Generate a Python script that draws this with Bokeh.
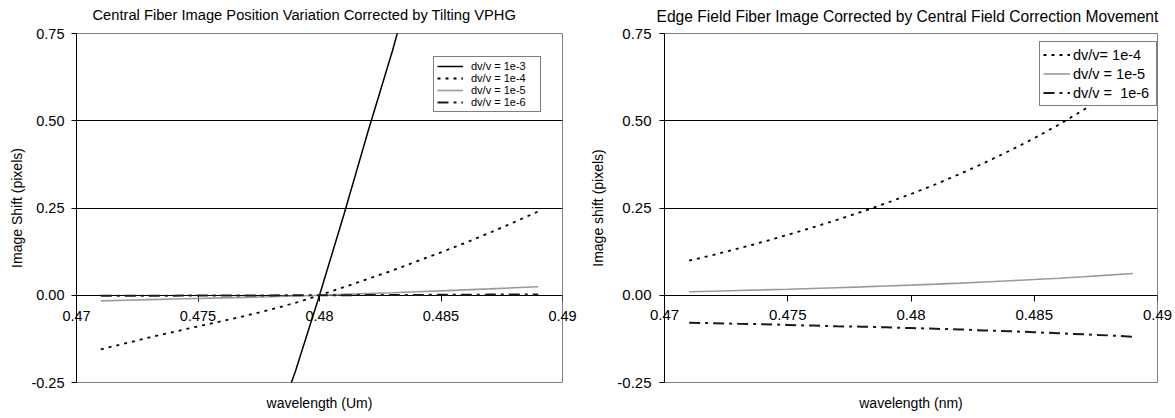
from bokeh.plotting import figure
from bokeh.layouts import row
from bokeh.models import (Range1d, FixedTicker, NumeralTickFormatter, LinearAxis,
                          Legend, LegendItem, Title, Grid)
from bokeh.embed import file_html
from bokeh.resources import INLINE

FONT = "Liberation Sans"

# ---------------- data ----------------
wavelength = [0.471, 0.472, 0.473, 0.474, 0.475, 0.476, 0.477, 0.478, 0.479, 0.480,
              0.481, 0.482, 0.483, 0.484, 0.485, 0.486, 0.487, 0.488, 0.489]

x_ticks = [0.47, 0.475, 0.48, 0.485, 0.49]
y_ticks = [-0.25, 0.0, 0.25, 0.5, 0.75]
grid_levels = [0.25, 0.5]

# left panel: central fiber
left_1e3 = [-1.55, -1.38, -1.21, -1.05, -0.89, -0.74, -0.58, -0.41, -0.22, 0.0,
            0.23, 0.47, 0.70, 0.95, 1.23, 1.50, 1.79, 2.09, 2.40]
left_1e4 = [-0.155, -0.138, -0.121, -0.105, -0.089, -0.074, -0.058, -0.041, -0.022, 0.0,
            0.023, 0.047, 0.071, 0.097, 0.123, 0.150, 0.179, 0.209, 0.240]
left_1e5 = [-0.0160, -0.0142, -0.0125, -0.0108, -0.0092, -0.0076, -0.0060, -0.0042, -0.0023, 0.0,
            0.0024, 0.0048, 0.0073, 0.0099, 0.0126, 0.0154, 0.0183, 0.0214, 0.0245]
left_1e6 = [-0.0016, -0.0014, -0.0012, -0.0011, -0.0009, -0.0007, -0.0006, -0.0004, -0.0002, 0.0,
            0.0002, 0.0005, 0.0007, 0.0010, 0.0012, 0.0015, 0.0018, 0.0021, 0.0024]

# right panel: edge field fiber
right_1e4 = [0.099, 0.116, 0.134, 0.153, 0.173, 0.194, 0.216, 0.239, 0.264, 0.290,
             0.318, 0.348, 0.380, 0.414, 0.450, 0.489, 0.531, 0.576, 0.624]
right_1e5 = [0.0099, 0.0116, 0.0134, 0.0153, 0.0173, 0.0194, 0.0216, 0.0239, 0.0264, 0.0290,
             0.0318, 0.0348, 0.0380, 0.0414, 0.0450, 0.0489, 0.0531, 0.0576, 0.0624]
right_1e6 = [-0.079, -0.080, -0.082, -0.083, -0.085, -0.087, -0.089, -0.090, -0.092, -0.094,
             -0.096, -0.098, -0.101, -0.103, -0.106, -0.109, -0.112, -0.115, -0.119]

left_labels = ["dv/v = 1e-3", "dv/v = 1e-4", "dv/v = 1e-5", "dv/v = 1e-6"]
right_labels = ["dv/v= 1e-4", "dv/v = 1e-5", "dv/v =  1e-6"]

left_title = "Central Fiber Image Position Variation Corrected by Tilting VPHG"
right_title = "Edge Field Fiber Image Corrected by Central Field Correction Movement"

# ---------------- styles ----------------
STY_SOLID = dict(line_color="black", line_width=1.5)
STY_DOT = dict(line_color="black", line_width=1.8, line_dash="3 5")
STY_GRAY = dict(line_color="#9a9a9a", line_width=1.6)
STY_DASHDOT = dict(line_color="#1a1a1a", line_width=2.0, line_dash="11 5 3 5")

SHIFT = 4  # canvas starts a few px above the page so the titles can sit high


def make_panel(width, height, mb_left, mb_right, mb_top, mb_bottom, tick_fs,
               ylabel, xlabel, ylabel_standoff, ytick_standoff, xtick_standoff,
               xlabel_standoff, title, title_offset, title_fs, title_standoff):
    p = figure(width=width, height=height,
               x_range=Range1d(0.47, 0.49), y_range=Range1d(-0.25, 0.75),
               x_axis_type=None, y_axis_type=None,
               output_backend="svg", toolbar_location=None,
               min_border_left=mb_left, min_border_right=mb_right,
               min_border_top=mb_top, min_border_bottom=mb_bottom)
    p.background_fill_color = "white"
    p.border_fill_color = "white"
    p.outline_line_color = "#808080"
    p.outline_line_width = 1

    t = Title(text=title, align="left", offset=title_offset,
              text_font=FONT, text_font_size=title_fs, text_font_style="normal",
              text_color="black", vertical_align="top", standoff=title_standoff)
    p.add_layout(t, "above")

    # horizontal gridlines
    p.add_layout(Grid(dimension=1, ticker=FixedTicker(ticks=grid_levels),
                      grid_line_color="black", grid_line_width=1))

    # y axis
    ya = LinearAxis(ticker=FixedTicker(ticks=y_ticks, minor_ticks=[]),
                    formatter=NumeralTickFormatter(format="0.00"),
                    axis_label=ylabel)
    ya.axis_line_color = "black"
    ya.major_tick_line_color = "black"
    ya.major_tick_out = 5
    ya.major_tick_in = 0
    ya.minor_tick_line_color = None
    ya.major_label_text_font = FONT
    ya.major_label_text_font_size = tick_fs
    ya.major_label_text_color = "black"
    ya.major_label_standoff = ytick_standoff
    ya.axis_label_text_font = FONT
    ya.axis_label_text_font_size = "14px"
    ya.axis_label_text_font_style = "normal"
    ya.axis_label_text_color = "black"
    ya.axis_label_standoff = ylabel_standoff
    p.add_layout(ya, "left")

    # zero line with tick marks (axis crossing at y = 0)
    xa = LinearAxis(ticker=FixedTicker(ticks=x_ticks, minor_ticks=[]),
                    fixed_location=0)
    xa.level = "underlay"
    xa.axis_line_color = "black"
    xa.axis_line_width = 1
    xa.major_tick_line_color = "black"
    xa.major_tick_out = 6
    xa.major_tick_in = 0
    xa.minor_tick_line_color = None
    xa.major_label_text_font_size = "0px"
    xa.major_label_text_color = None
    p.add_layout(xa, "below")

    # tick labels (shown just below the zero line) and the x axis title
    xl = LinearAxis(ticker=FixedTicker(ticks=x_ticks, minor_ticks=[]),
                    formatter=NumeralTickFormatter(format="0.[000]"),
                    axis_label=xlabel)
    xl.axis_line_color = None
    xl.major_tick_line_color = None
    xl.minor_tick_line_color = None
    xl.major_tick_out = 0
    xl.major_tick_in = 0
    xl.major_label_text_font = FONT
    xl.major_label_text_font_size = tick_fs
    xl.major_label_text_color = "black"
    xl.major_label_standoff = xtick_standoff
    xl.axis_label_text_font = FONT
    xl.axis_label_text_font_size = "14px"
    xl.axis_label_text_font_style = "normal"
    xl.axis_label_text_color = "black"
    xl.axis_label_standoff = xlabel_standoff
    p.add_layout(xl, "below")
    return p


def style_legend(leg, font_size, glyph_w, row_h, label_w, standoff):
    leg.label_text_font = FONT
    leg.label_text_font_size = font_size
    leg.label_text_color = "black"
    leg.glyph_width = glyph_w
    leg.glyph_height = row_h
    leg.label_height = row_h
    leg.label_width = label_w
    leg.label_standoff = standoff
    leg.padding = 3
    leg.spacing = 0
    leg.margin = 0
    leg.border_line_color = "black"
    leg.border_line_width = 1
    leg.background_fill_color = "white"
    leg.background_fill_alpha = 1.0


# ---------------- left panel ----------------
p1 = make_panel(587, 418 + SHIFT, 76, 25, 33 + SHIFT, 36, "14.5px",
                "Image Shift (pixels)", "wavelength (Um)", 3, 7, -72, 71,
                left_title, 16, "14.7px", 18)
r1 = p1.line(wavelength, left_1e3, **STY_SOLID)
r2 = p1.line(wavelength, left_1e4, **STY_DOT)
r3 = p1.line(wavelength, left_1e5, **STY_GRAY)
r4 = p1.line(wavelength, left_1e6, **STY_DASHDOT)
leg1 = Legend(items=[LegendItem(label=lab, renderers=[r]) for lab, r in
                     zip(left_labels, [r1, r2, r3, r4])],
              location=(357, 270))
style_legend(leg1, "11px", 26, 12, 66, 8)
p1.add_layout(leg1)

# ---------------- right panel ----------------
p2 = make_panel(588, 418 + SHIFT, 74, 18, 30 + SHIFT, 35, "15px",
                "Image shift (pixels)", "wavelength (nm)", 8, 8, -73, 72,
                right_title, -8, "15.6px", 14)
s1 = p2.line(wavelength, right_1e4, **STY_DOT)
s2 = p2.line(wavelength, right_1e5, **STY_GRAY)
s3 = p2.line(wavelength, right_1e6, **STY_DASHDOT)
leg2 = Legend(items=[LegendItem(label=lab, renderers=[r]) for lab, r in
                     zip(right_labels, [s1, s2, s3])],
              location=(375, 276))
style_legend(leg2, "14.5px", 27, 19, 80, 3)
p2.add_layout(leg2)

layout = row(p1, p2)
layout.margin = (-SHIFT, 0, 0, 0)
open("out.html", "w").write(file_html(layout, INLINE))
